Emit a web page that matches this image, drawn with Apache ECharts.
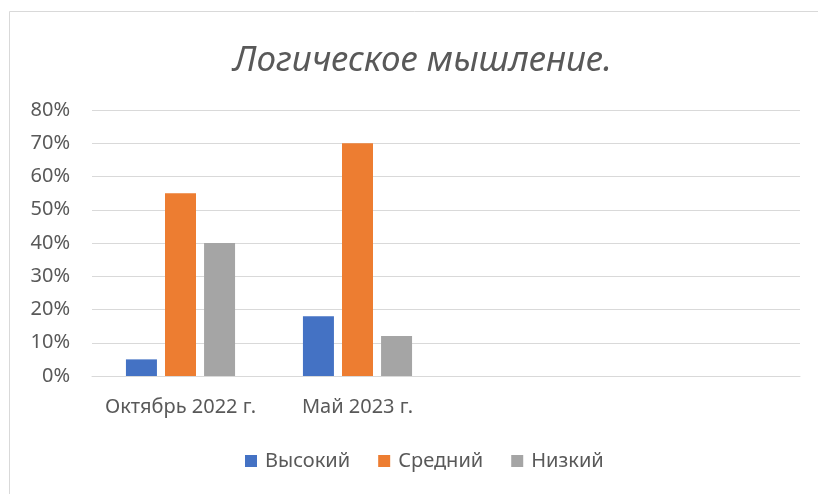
<!DOCTYPE html>
<html>
<head>
<meta charset="utf-8"/>
<title>Логическое мышление.</title>
<style type="text/css">
    html, body { margin: 0; padding: 0; background: #fff; }
    #chart { width: 818px; height: 494px; }
</style>
<script type="text/javascript" src="https://cdn.jsdelivr.net/npm/echarts@6/dist/echarts.min.js"></script>
</head>
<body>
<div id="chart"></div>
<script>
    // data
    var categories = ["Октябрь 2022 г.", "Май 2023 г.", "", ""];
    var seriesNames = ["Высокий", "Средний", "Низкий"];
    var highValues = [5, 18, null, null];
    var midValues = [55, 70, null, null];
    var lowValues = [40, 12, null, null];
    var yTicks = [0, 10, 20, 30, 40, 50, 60, 70, 80];

    var colors = ["#4472C4", "#ED7D31", "#A5A5A5"];
    var textColor = "#595959";
    var fontFam = "'Noto Sans', sans-serif";

    function makeSeries(name, data, color) {
        return {
            name: name,
            type: "bar",
            data: data,
            barWidth: 31,
            barGap: "26%",
            itemStyle: { color: color },
            emphasis: { disabled: true }
        };
    }

    var chart = echarts.init(document.getElementById("chart"));
    chart.setOption({
        animation: false,
        color: colors,
        title: {
            text: "Логическое мышление.",
            left: 228,
            top: 39,
            textStyle: {
                fontFamily: fontFam,
                fontStyle: "italic",
                fontWeight: "normal",
                fontSize: 35,
                color: textColor
            }
        },
        graphic: [{
            type: "rect",
            shape: { x: 9.5, y: 11.5, width: 1000, height: 1000 },
            style: { fill: "none", stroke: "#D9D9D9", lineWidth: 1 },
            silent: true
        }],
        legend: {
            data: seriesNames,
            bottom: 18,
            left: 240,
            itemWidth: 12,
            itemHeight: 12,
            itemGap: 28,
            icon: "rect",
            textStyle: { fontFamily: fontFam, fontSize: 20, color: textColor, padding: [0, 0, 0, 3] }
        },
        grid: { left: 92, right: 18, top: 110, bottom: 118 },
        xAxis: {
            type: "category",
            data: categories,
            axisLine: { lineStyle: { color: "#D9D9D9" } },
            axisTick: { show: false },
            axisLabel: { fontFamily: fontFam, fontSize: 20, color: textColor, margin: 21, interval: 0 }
        },
        yAxis: {
            type: "value",
            min: yTicks[0],
            max: yTicks[yTicks.length - 1],
            interval: yTicks[1] - yTicks[0],
            axisLine: { show: false },
            axisTick: { show: false },
            splitLine: { lineStyle: { color: "#D9D9D9" } },
            axisLabel: {
                fontFamily: fontFam,
                fontSize: 20,
                color: textColor,
                margin: 22,
                formatter: "{value}%"
            }
        },
        series: [
            makeSeries(seriesNames[0], highValues, colors[0]),
            makeSeries(seriesNames[1], midValues, colors[1]),
            makeSeries(seriesNames[2], lowValues, colors[2])
        ]
    });
</script>
</body>
</html>
